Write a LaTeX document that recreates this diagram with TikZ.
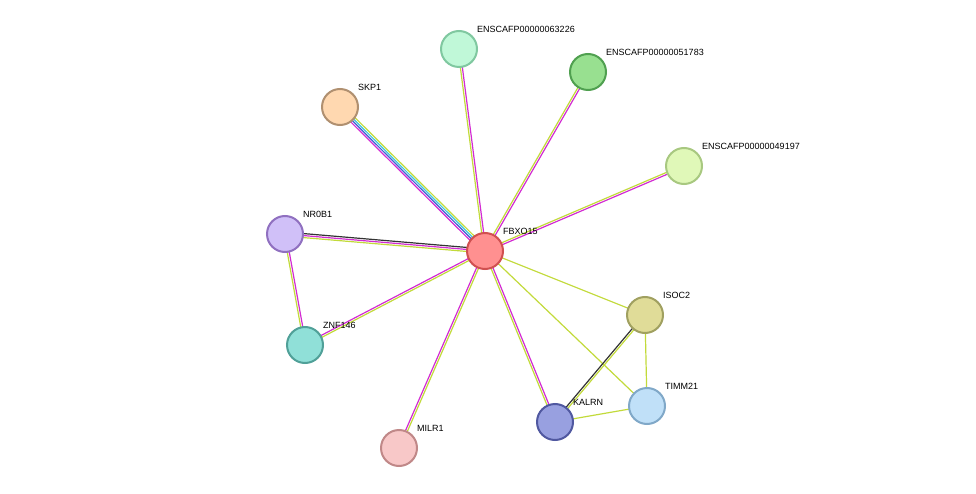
\documentclass[tikz,border=0pt]{standalone}
\usepackage{fontspec}
\setmainfont{Liberation Sans}
\usetikzlibrary{calc}
\definecolor{mg}{HTML}{D22BD2}
\definecolor{yg}{HTML}{C2DA3A}
\definecolor{bk}{HTML}{333333}
\definecolor{bl}{HTML}{3F5FD4}
\definecolor{cy}{HTML}{3FC8D8}
\definecolor{c0}{HTML}{FF9090}\definecolor{d0}{HTML}{D05050}
\definecolor{c1}{HTML}{C0F8D8}\definecolor{d1}{HTML}{80C8A0}
\definecolor{c2}{HTML}{98E090}\definecolor{d2}{HTML}{50A050}
\definecolor{c3}{HTML}{E0F8B8}\definecolor{d3}{HTML}{A8C880}
\definecolor{c4}{HTML}{FFD8B0}\definecolor{d4}{HTML}{B09070}
\definecolor{c5}{HTML}{D0C0F8}\definecolor{d5}{HTML}{9070C0}
\definecolor{c6}{HTML}{90E0D8}\definecolor{d6}{HTML}{50A098}
\definecolor{c7}{HTML}{F8C8C8}\definecolor{d7}{HTML}{C08888}
\definecolor{c8}{HTML}{98A0E0}\definecolor{d8}{HTML}{5058A0}
\definecolor{c9}{HTML}{C0E0F8}\definecolor{d9}{HTML}{80A8C8}
\definecolor{c10}{HTML}{E0DC98}\definecolor{d10}{HTML}{A0A060}
\tikzset{x=1pt,y=-1pt,
 nd/.style={circle,minimum size=36pt,inner sep=0pt,line width=2pt},
 lb/.style={font=\fontsize{9}{10}\selectfont,anchor=south west,inner sep=0pt},
 ed/.style={line width=1.2pt}}
\newcommand{\edg}[4]{\draw[ed,#4] ($(#1)!#3!90:(#2)$) -- ($(#2)!#3!-90:(#1)$);}
\begin{document}
\begin{tikzpicture}
\useasboundingbox (0,0) rectangle (976,494);
\coordinate (f) at (485,251);
\coordinate (e1) at (459,49);
\coordinate (e2) at (588,72);
\coordinate (e3) at (684,166);
\coordinate (s) at (340,107);
\coordinate (n) at (285,234);
\coordinate (z) at (305,345);
\coordinate (m) at (399,448);
\coordinate (k) at (555,422);
\coordinate (t) at (647,406);
\coordinate (i) at (645,315);
\edg{f}{e1}{-1pt}{mg}\edg{f}{e1}{1pt}{yg}
\edg{f}{e2}{-1pt}{mg}\edg{f}{e2}{1pt}{yg}
\edg{f}{e3}{-1pt}{mg}\edg{f}{e3}{1pt}{yg}
\edg{f}{s}{-3pt}{yg}\edg{f}{s}{-1pt}{cy}\edg{f}{s}{1pt}{bl}\edg{f}{s}{3pt}{mg}
\edg{f}{n}{-2pt}{bk}\edg{f}{n}{0pt}{mg}\edg{f}{n}{2pt}{yg}
\edg{f}{z}{-1pt}{mg}\edg{f}{z}{1pt}{yg}
\edg{f}{m}{-1pt}{mg}\edg{f}{m}{1pt}{yg}
\edg{f}{k}{-1pt}{yg}\edg{f}{k}{1pt}{mg}
\edg{f}{i}{0pt}{yg}
\edg{f}{t}{0pt}{yg}
\edg{n}{z}{-1pt}{yg}\edg{n}{z}{1pt}{mg}
\edg{i}{k}{-1pt}{bk}\edg{i}{k}{1pt}{yg}
\edg{i}{t}{0pt}{yg}
\edg{k}{t}{0pt}{yg}
\node[nd,fill=c0,draw=d0] (F) at (f) {};
\node[nd,fill=c1,draw=d1] (E1) at (e1) {};
\node[nd,fill=c2,draw=d2] (E2) at (e2) {};
\node[nd,fill=c3,draw=d3] (E3) at (e3) {};
\node[nd,fill=c4,draw=d4] (S) at (s) {};
\node[nd,fill=c5,draw=d5] (N) at (n) {};
\node[nd,fill=c6,draw=d6] (Z) at (z) {};
\node[nd,fill=c7,draw=d7] (M) at (m) {};
\node[nd,fill=c8,draw=d8] (K) at (k) {};
\node[nd,fill=c9,draw=d9] (T) at (t) {};
\node[nd,fill=c10,draw=d10] (I) at (i) {};
\node[lb] (LF) at (503,235) {FBXO15};
\node[lb] (L1) at (477,33) {ENSCAFP00000063226};
\node[lb] (L2) at (606,56) {ENSCAFP00000051783};
\node[lb] (L3) at (702,150) {ENSCAFP00000049197};
\node[lb] (LS) at (358,91) {SKP1};
\node[lb] (LN) at (303,218) {NR0B1};
\node[lb] (LZ) at (323,329) {ZNF146};
\node[lb] (LM) at (417,432) {MILR1};
\node[lb] (LK) at (573,406) {KALRN};
\node[lb] (LT) at (665,390) {TIMM21};
\node[lb] (LI) at (663,299) {ISOC2};
\end{tikzpicture}
\end{document}
